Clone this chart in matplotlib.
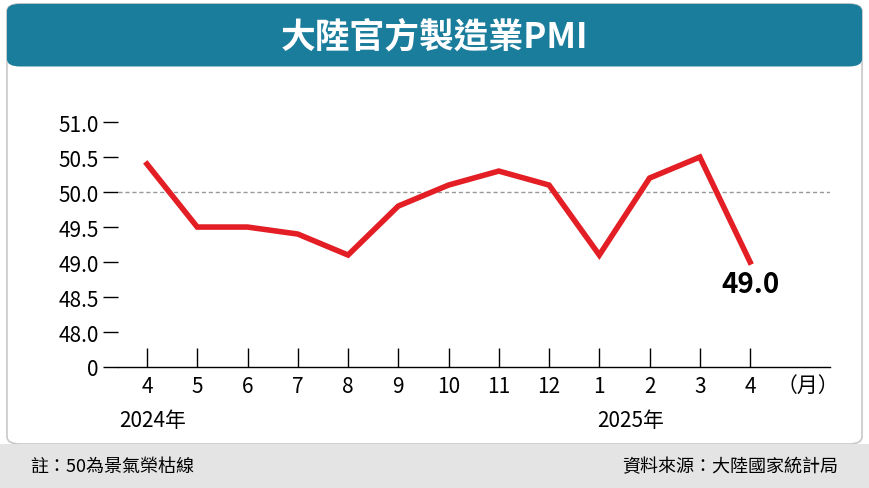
import matplotlib.pyplot as plt
from matplotlib.patches import FancyBboxPatch, Rectangle

plt.rcParams['font.family'] = ['Noto Sans CJK TC', 'DejaVu Sans']

months = ['4', '5', '6', '7', '8', '9', '10', '11', '12', '1', '2', '3', '4']
pmi = [50.4, 49.5, 49.5, 49.4, 49.1, 49.8, 50.1, 50.3, 50.1, 49.1, 50.2, 50.5, 49.0]
ytick_vals = [0, 48.0, 48.5, 49.0, 49.5, 50.0, 50.5, 51.0]


def to_axis(v):
    # broken axis: 0 sits one step below 48.0
    return 0.0 if v == 0 else v - 47.5


fig = plt.figure(figsize=(8.69, 4.89), dpi=100)
fig.patch.set_facecolor('white')

# frame, title band, footer (kept behind the axes)
fig.patches.append(FancyBboxPatch((0.008, 0.09), 0.984, 0.9, boxstyle='round,pad=0,rounding_size=0.015',
                                  transform=fig.transFigure, facecolor='white', edgecolor='#c8c8c8', lw=1.2,
                                  zorder=-2))
fig.patches.append(FancyBboxPatch((0.008, 0.862), 0.984, 0.128, boxstyle='round,pad=0,rounding_size=0.015',
                                  transform=fig.transFigure, facecolor='#1b7d9c', edgecolor='none', zorder=-1))
fig.patches.append(Rectangle((0, 0), 1, 0.09, transform=fig.transFigure, facecolor='#e4e4e4', edgecolor='none',
                             zorder=-1))
fig.text(0.5, 0.925, '大陸官方製造業PMI', color='white', fontsize=25, fontweight='bold', ha='center', va='center')
fig.text(0.035, 0.045, '註：50為景氣榮枯線', fontsize=13, va='center')
fig.text(0.965, 0.045, '資料來源：大陸國家統計局', fontsize=13, va='center', ha='right')

ax = fig.add_axes([118 / 869, 1 - 368 / 489, (830 - 118) / 869, (368 - 100) / 489])
ax.set_facecolor('none')
x = list(range(len(pmi)))
ax.plot(x, [to_axis(v) for v in pmi], color='#e31e24', lw=4, solid_joinstyle='miter', zorder=3)
ax.axhline(to_axis(50.0), color='#999999', lw=1, ls=(0, (3, 2)))
ax.set_xlim(-0.577, 13.59)
ax.set_ylim(0, 3.83)

ax.set_yticks([to_axis(v) for v in ytick_vals])
ax.set_yticklabels(['0' if v == 0 else f'{v:.1f}' for v in ytick_vals], fontsize=15)
ax.set_xticks(x)
ax.set_xticklabels(months, fontsize=15)
ax.tick_params(axis='y', direction='out', length=11, width=1, pad=3)
ax.tick_params(axis='x', direction='in', length=14, width=1, pad=6)
for s in ['top', 'right', 'left']:
    ax.spines[s].set_visible(False)
ax.spines['bottom'].set_linewidth(1)

ax.text(13.15, -0.1, '（月）', fontsize=15, ha='center', va='top')
ax.text(-0.55, -0.6, '2024年', fontsize=15, ha='left', va='top')
ax.text(8.95, -0.6, '2025年', fontsize=15, ha='left', va='top')
ax.text(12, to_axis(49.0) - 0.12, '49.0', fontsize=20, fontweight='bold', ha='center', va='top')

fig.savefig('out.png', dpi=100)
